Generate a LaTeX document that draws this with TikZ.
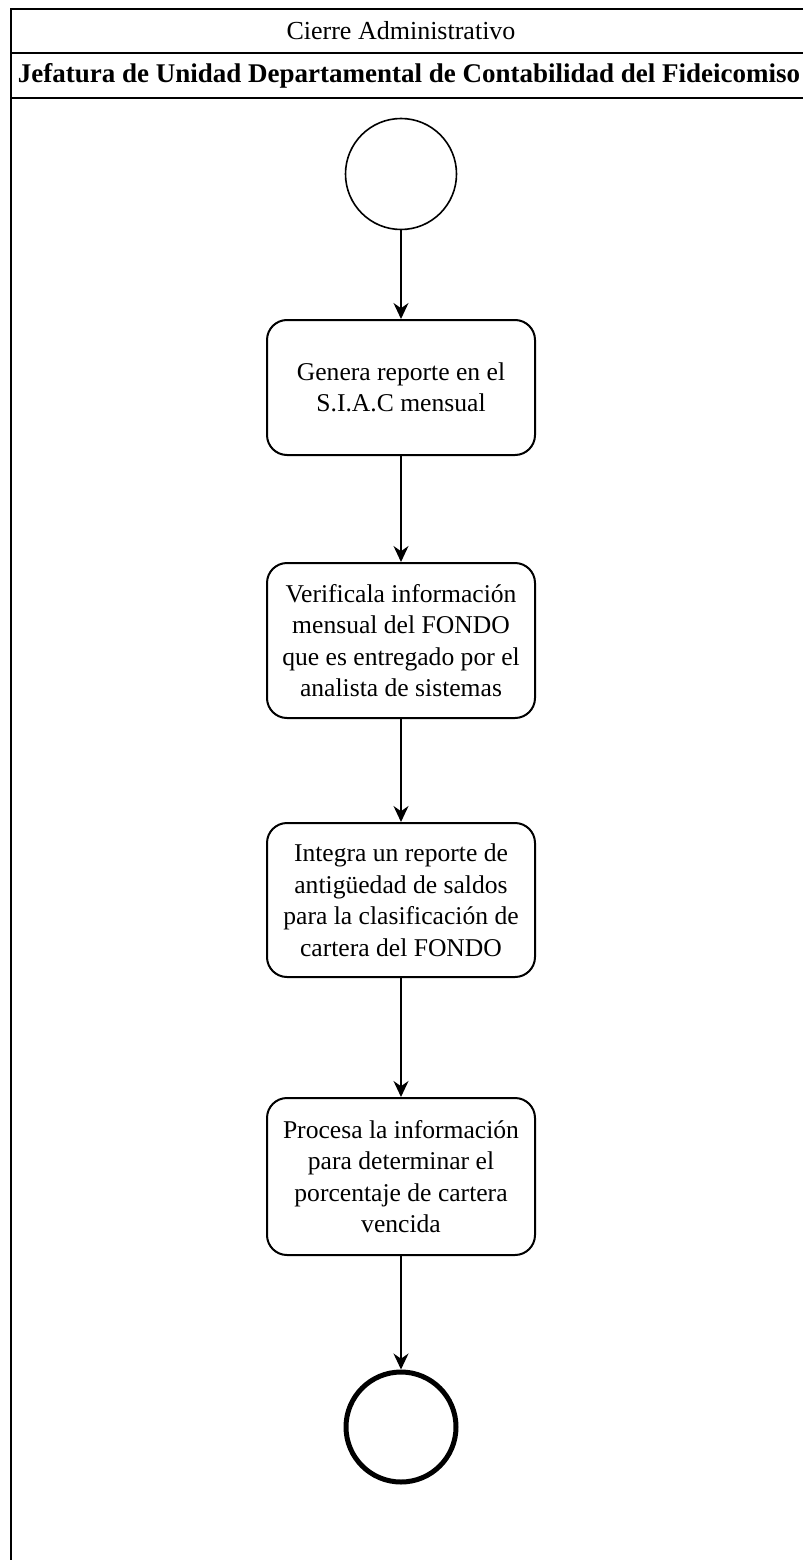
\documentclass[tikz,border=0pt]{standalone}
\usepackage{fontspec}
\setmainfont{Liberation Serif}
\usetikzlibrary{arrows.meta}
\tikzset{
  frameline/.style={line width=2pt, black},
  stepbox/.style={draw, line width=2pt, rounded corners=20pt, minimum width=268pt, align=center, font=\fontsize{25.6}{31.5}\selectfont, inner sep=0pt},
  startnode/.style={draw, circle, line width=1.6pt, minimum size=111pt, inner sep=0pt},
  endnode/.style={draw, circle, line width=5pt, minimum size=110pt, inner sep=0pt},
  flow/.style={line width=1.6pt, -{Stealth[length=16pt, width=15pt]}},
  headtext/.style={font=\fontsize{26}{30}\selectfont, inner sep=0pt}
}
\begin{document}
\begin{tikzpicture}[x=1pt, y=-1pt]
\useasboundingbox (0,0) rectangle (803,1560);
% frame
\draw[frameline] (803,9) -- (11,9) -- (11,1562);
\draw[frameline] (11,53) -- (803,53);
\draw[frameline] (11,98) -- (803,98);
\node[headtext] (title) at (401,31) {Cierre Administrativo};
\node[headtext, font=\fontsize{27}{30}\selectfont\bfseries] (lane) at (409,76) {Jefatura de Unidad Departamental de Contabilidad del Fideicomiso};
% nodes
\node[startnode] (start) at (401,174) {};
\node[stepbox, minimum height=135pt] (b1) at (401,387.5) {Genera reporte en el\\S.I.A.C mensual};
\node[stepbox, minimum height=155pt] (b2) at (401,640.5) {Verificala información\\mensual del FONDO\\que es entregado por el\\analista de sistemas};
\node[stepbox, minimum height=154pt] (b3) at (401,900) {Integra un reporte de\\antigüedad de saldos\\para la clasificación de\\cartera del FONDO};
\node[stepbox, minimum height=157pt] (b4) at (401,1176.5) {Procesa la información\\para determinar el\\porcentaje de cartera\\vencida};
\node[endnode] (end) at (401,1427) {};
% connectors
\draw[flow] (start) -- (b1);
\draw[flow] (b1) -- (b2);
\draw[flow] (b2) -- (b3);
\draw[flow] (b3) -- (b4);
\draw[flow] (b4) -- (end);
\end{tikzpicture}
\end{document}
